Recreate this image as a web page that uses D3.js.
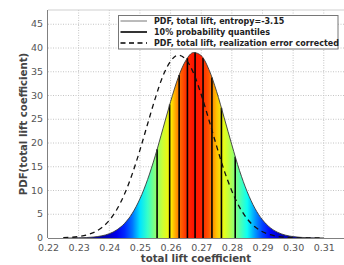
<!DOCTYPE html>
<html>
<head>
<meta charset="utf-8">
<script src="https://cdn.jsdelivr.net/npm/d3@7"></script>
<style>
  html, body { margin: 0; padding: 0; background: #fff; }
  text { font-family: "DejaVu Sans", sans-serif; }
</style>
</head>
<body>
<div id="chart"></div>
<script>
// Data
const liftValues = [0.225, 0.2275, 0.23, 0.2325, 0.235, 0.2375, 0.24, 0.2425, 0.245, 0.2475,
  0.25, 0.2525, 0.255, 0.2575, 0.26, 0.2625, 0.265, 0.2675, 0.27, 0.2725,
  0.275, 0.2775, 0.28, 0.2825, 0.285, 0.2875, 0.29, 0.2925, 0.295, 0.2975,
  0.3, 0.3025, 0.305, 0.3075, 0.31];
const pdfValues = [0.00, 0.01, 0.04, 0.09, 0.21, 0.45, 0.90, 1.72, 3.08, 5.19,
  8.24, 12.3, 17.3, 23.0, 28.7, 33.8, 37.4, 39.05, 38.4, 35.5,
  30.9, 25.3, 19.6, 14.2, 9.75, 6.28, 3.82, 2.18, 1.18, 0.60,
  0.29, 0.13, 0.05, 0.02, 0.01];
const pdfCorrected = [0.06, 0.14, 0.30, 0.62, 1.19, 2.16, 3.72, 6.05, 9.30, 13.5,
  18.5, 24.0, 29.4, 34.1, 37.2, 38.5, 37.6, 34.7, 30.2, 24.9,
  19.4, 14.2, 9.9, 6.5, 4.04, 2.37, 1.31, 0.69, 0.34, 0.16,
  0.07, 0.03, 0.01, 0.00, 0.00];
const quantileX = [0.2556, 0.2597, 0.2628, 0.2655, 0.2680, 0.2706, 0.2735, 0.2766, 0.2811];
const quantilePdf = [18.7, 28.1, 34.3, 37.9, 39.1, 37.9, 33.8, 27.4, 17.1];
const xTicks = [0.22, 0.23, 0.24, 0.25, 0.26, 0.27, 0.28, 0.29, 0.30, 0.31];
const yTicks = [0, 5, 10, 15, 20, 25, 30, 35, 40, 45];
const legendLabels = [
  'PDF, total lift, entropy=-3.15',
  '10% probability quantiles',
  'PDF, total lift, realization error corrected'
];

// Configuration
const width = 344;
const height = 265;
const margin = { top: 10, right: 0, bottom: 27, left: 48 };
const plotBottom = height - margin.bottom;

const x = d3.scaleLinear().domain([0.22, 0.3166]).range([margin.left, width]);
const y = d3.scaleLinear().domain([0, 48]).range([plotBottom, margin.top]);

// jet colormap, stretched so that cyan / green / yellow fall where the picture has them
function jet(t) {
  const c = v => Math.round(255 * Math.max(0, Math.min(1, v)));
  return `rgb(${c(1.5 - Math.abs(4 * t - 3))},${c(1.5 - Math.abs(4 * t - 2))},${c(1.5 - Math.abs(4 * t - 1))})`;
}
const colorPos = d3.scaleLinear()
  .domain([0, 2, 9, 18, 29, 35, 39.2])
  .range([0.02, 0.125, 0.375, 0.52, 0.64, 0.78, 0.86])
  .clamp(true);

const svg = d3.select('#chart')
  .append('svg')
  .attr('width', width)
  .attr('height', height);

const defs = svg.append('defs');
defs.append('clipPath').attr('id', 'plotClip')
  .append('rect')
  .attr('x', margin.left).attr('y', margin.top)
  .attr('width', width - margin.left).attr('height', plotBottom - margin.top);

const x0 = x(liftValues[0]);
const x1 = x(liftValues[liftValues.length - 1]);
const grad = defs.append('linearGradient')
  .attr('id', 'jetFill')
  .attr('gradientUnits', 'userSpaceOnUse')
  .attr('x1', x0).attr('x2', x1).attr('y1', 0).attr('y2', 0);
grad.selectAll('stop')
  .data(liftValues)
  .enter()
  .append('stop')
  .attr('offset', d => (x(d) - x0) / (x1 - x0))
  .attr('stop-color', (d, i) => jet(colorPos(pdfValues[i])));

// Plot background
svg.append('rect')
  .attr('x', margin.left).attr('y', margin.top)
  .attr('width', width - margin.left).attr('height', plotBottom - margin.top)
  .attr('fill', '#fff');

// Grid lines
svg.append('g')
  .selectAll('line')
  .data(xTicks.slice(1))
  .enter()
  .append('line')
  .attr('x1', d => x(d)).attr('x2', d => x(d))
  .attr('y1', margin.top).attr('y2', plotBottom)
  .attr('stroke', '#c4c4c4')
  .attr('stroke-dasharray', '1,1.5');

svg.append('g')
  .selectAll('line')
  .data(yTicks.slice(1))
  .enter()
  .append('line')
  .attr('x1', margin.left).attr('x2', width)
  .attr('y1', d => y(d)).attr('y2', d => y(d))
  .attr('stroke', '#c4c4c4')
  .attr('stroke-dasharray', '1,1.5');

const plot = svg.append('g').attr('clip-path', 'url(#plotClip)');

// Coloured area under the PDF
const area = d3.area()
  .x((d, i) => x(liftValues[i]))
  .y0(y(0))
  .y1(d => y(d))
  .curve(d3.curveMonotoneX);

plot.append('path')
  .datum(pdfValues)
  .attr('d', area)
  .attr('fill', 'url(#jetFill)');

// Quantile lines
plot.selectAll('.quantile')
  .data(quantileX)
  .enter()
  .append('line')
  .attr('class', 'quantile')
  .attr('x1', d => x(d)).attr('x2', d => x(d))
  .attr('y1', y(0))
  .attr('y2', (d, i) => y(quantilePdf[i]))
  .attr('stroke', '#000')
  .attr('stroke-width', 1.6);

// PDF outline
const line = d3.line()
  .x((d, i) => x(liftValues[i]))
  .y(d => y(d))
  .curve(d3.curveMonotoneX);

plot.append('path')
  .datum(pdfValues)
  .attr('d', line)
  .attr('fill', 'none')
  .attr('stroke', '#3a3a3a')
  .attr('stroke-width', 0.9);

// Corrected PDF (dashed)
plot.append('path')
  .datum(pdfCorrected)
  .attr('d', line)
  .attr('fill', 'none')
  .attr('stroke', '#111')
  .attr('stroke-width', 1.3)
  .attr('stroke-dasharray', '5,4');

// Frame
svg.append('line')
  .attr('x1', margin.left).attr('x2', width)
  .attr('y1', margin.top).attr('y2', margin.top)
  .attr('stroke', '#cfcfcf');
svg.append('line')
  .attr('x1', margin.left - 0.5).attr('x2', margin.left - 0.5)
  .attr('y1', margin.top).attr('y2', plotBottom)
  .attr('stroke', '#808080');
svg.append('line')
  .attr('x1', margin.left).attr('x2', width)
  .attr('y1', plotBottom + 0.5).attr('y2', plotBottom + 0.5)
  .attr('stroke', '#808080');

// Axes labels (tick texts)
const xAxis = svg.append('g')
  .attr('transform', `translate(0,${plotBottom})`)
  .call(d3.axisBottom(x).tickValues(xTicks).tickSize(0).tickPadding(6).tickFormat(d3.format('.2f')));
xAxis.select('.domain').remove();
xAxis.selectAll('text')
  .attr('fill', '#555')
  .style('font-size', '9.5px');

const yAxis = svg.append('g')
  .attr('transform', `translate(${margin.left},0)`)
  .call(d3.axisLeft(y).tickValues(yTicks).tickSize(0).tickPadding(5));
yAxis.select('.domain').remove();
yAxis.selectAll('text')
  .attr('fill', '#555')
  .attr('dy', '0.28em')
  .style('font-size', '9.5px');

// Axis titles
svg.append('text')
  .attr('x', 196)
  .attr('y', 262)
  .attr('text-anchor', 'middle')
  .attr('fill', '#444')
  .style('font-size', '10.2px')
  .style('font-weight', 'bold')
  .text('total lift coefficient');

svg.append('text')
  .attr('transform', `translate(27,${(margin.top + plotBottom) / 2}) rotate(-90)`)
  .attr('text-anchor', 'middle')
  .attr('fill', '#444')
  .style('font-size', '10.2px')
  .style('font-weight', 'bold')
  .text('PDF(total lift coefficient)');

// Legend
const legend = svg.append('g').attr('transform', 'translate(118.5,15.5)');
legend.append('rect')
  .attr('width', 219.5)
  .attr('height', 33.5)
  .attr('fill', '#fff')
  .attr('stroke', '#777');

const legendStyles = [
  { stroke: '#777', width: 1, dash: null },
  { stroke: '#000', width: 1.6, dash: null },
  { stroke: '#000', width: 1.3, dash: '5,3.5' }
];
legendLabels.forEach((label, i) => {
  const ly = 5.5 + i * 11;
  legend.append('line')
    .attr('x1', 2).attr('x2', 28.5)
    .attr('y1', ly).attr('y2', ly)
    .attr('stroke', legendStyles[i].stroke)
    .attr('stroke-width', legendStyles[i].width)
    .attr('stroke-dasharray', legendStyles[i].dash);
  legend.append('text')
    .attr('x', 35.5)
    .attr('y', ly)
    .attr('dy', '0.35em')
    .attr('fill', '#222')
    .style('font-size', '8px')
    .style('font-weight', 'bold')
    .text(label);
});
</script>
</body>
</html>
